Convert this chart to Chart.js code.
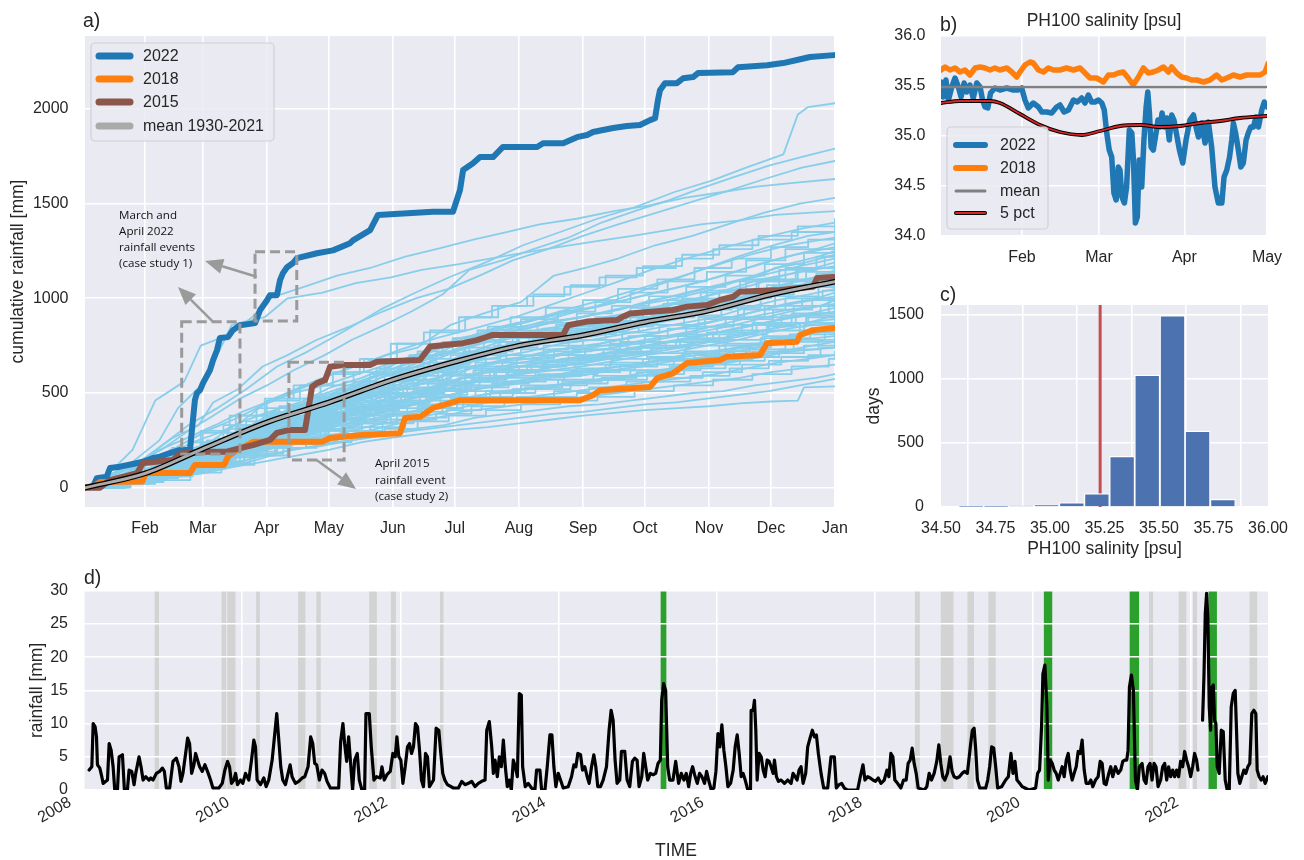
<!DOCTYPE html>
<html>
<head>
<meta charset="utf-8">
<script src="https://cdn.jsdelivr.net/npm/chart.js@4.4.1/dist/chart.umd.min.js"></script>
<style>
  html, body { margin: 0; padding: 0; background: #ffffff; width: 1304px; height: 860px; overflow: hidden; }
  canvas { position: absolute; }
</style>
</head>
<body>
<canvas id="panelA" width="860" height="545" style="left:0;top:0"></canvas>
<canvas id="panelB" width="444" height="270" style="left:860px;top:0"></canvas>
<canvas id="panelC" width="444" height="300" style="left:860px;top:270px"></canvas>
<canvas id="panelD" width="1304" height="295" style="left:0;top:565px"></canvas>
<script>
// ---------------- a) cumulative rainfall by day of year ----------------
const monthTickDays = [31, 59, 90, 120, 151, 181, 212, 243, 273, 304, 334, 365];
const monthTickLabels = ['Feb', 'Mar', 'Apr', 'May', 'Jun', 'Jul', 'Aug', 'Sep', 'Oct', 'Nov', 'Dec', 'Jan'];
const rainTicks = [0, 500, 1000, 1500, 2000];

// [day of year, cumulative mm]
const cum2022 = [[2,0],[5.9,5],[7.7,50],[12.5,58],[14.1,104],[18.9,111],[25.2,125],[30.1,137],[34.9,157],[38.3,164],[43.1,183],[48,199],[52.8,199],[55.2,463],[56.2,500],[57.7,515],[59.1,552],[62.5,621],[64,674],[65.9,727],[67.3,790],[71.2,795],[73.6,832],[77,858],[84.3,869],[86.7,937],[90.1,990],[91.5,1016],[94.9,1016],[96.4,1096],[97.8,1133],[99.8,1164],[102.7,1186],[104.6,1212],[114.3,1238],[122,1253],[130.3,1291],[131.7,1306],[140,1360],[143.8,1440],[170.4,1457],[180.1,1457],[183.5,1572],[185,1677],[189.8,1713],[193.2,1746],[199.5,1746],[204.3,1799],[220.8,1799],[223.7,1819],[233.4,1819],[240.1,1851],[245,1862],[247.9,1878],[257.6,1899],[264.3,1910],[270.6,1915],[275.5,1941],[277.9,1951],[279.3,2046],[280.3,2099],[282.7,2136],[288.5,2136],[291.5,2162],[296.3,2168],[298.7,2189],[315.6,2194],[318.1,2220],[332.1,2231],[339.9,2242],[346.6,2258],[352.9,2274],[364.5,2284]];
const cum2018 = [[2,0],[6.8,10],[9.3,30],[29.6,32],[31.5,77],[52.8,77],[55.2,120],[69.3,120],[71.2,164],[75.5,199],[78.9,215],[83.7,243],[117,243],[120.4,262],[136.4,278],[154.5,288],[156.9,368],[164.2,375],[170.4,421],[178.7,447],[183.5,462],[241.6,462],[247.9,488],[251.3,515],[265.8,525],[275.5,532],[278.9,578],[286.6,604],[293.4,658],[309.4,674],[312.7,692],[328.7,700],[332.1,763],[346.6,771],[348.1,806],[354.4,832],[364.5,843]];
const cum2015 = [[2,0],[9.3,0],[14.1,40],[27.2,77],[30.1,130],[44.6,146],[48,181],[61.1,190],[70.7,190],[77,209],[83.3,225],[91.5,252],[94.9,289],[101.2,305],[108.5,305],[111.9,533],[114.3,552],[118.2,568],[120.6,639],[126.9,648],[139.9,648],[143.3,665],[164.1,674],[169,745],[184.9,763],[191.7,779],[196.6,797],[199,806],[233.4,806],[235.8,858],[245,877],[259.5,885],[262.4,903],[265.8,920],[286.6,938],[293.4,956],[303.1,964],[309.4,991],[315.7,1008],[319,1035],[338.4,1044],[348.1,1054],[354.4,1061],[356.3,1107],[364.5,1112]];
const cumMean = [[2,0],[31,75],[59,205],[90,345],[120,450],[151,570],[181,665],[212,750],[243,805],[273,875],[304,935],[334,1020],[365,1088]];

// other years 1930-2021, each flat: day, mm, day, mm, ...
const otherYears = [
  [2,0, 12,60, 25,200, 36,460, 50,560, 58,750, 70,800, 83,900, 91,1000, 108,1060, 124,1120, 140,1160, 157,1220, 172,1260, 190,1310, 206,1350, 222,1390, 240,1420, 258,1460, 275,1490, 292,1530, 310,1560, 327,1590, 345,1610, 365,1630],
  [2,0, 9,40, 22,110, 38,250, 47,420, 60,560, 66,700, 73,860, 89,900, 100,1000, 117,1030, 133,1080, 150,1110, 165,1150, 183,1180, 198,1210, 214,1240, 231,1270, 249,1300, 267,1330, 284,1360, 300,1390, 318,1410, 336,1440, 365,1460],
  [2,0, 10,40, 26,110, 40,230, 52,330, 66,420, 80,520, 95,640, 110,720, 128,830, 145,940, 160,1020, 178,1110, 196,1190, 214,1280, 232,1350, 250,1420, 268,1480, 287,1560, 305,1620, 322,1690, 340,1760, 347,1970, 352,2010, 365,2030],
  [2,0, 14,60, 27,130, 39,200, 52,300, 64,380, 77,470, 90,540, 103,620, 118,700, 131,780, 147,860, 160,930, 175,1020, 188,1150, 204,1200, 219,1260, 236,1320, 252,1400, 268,1460, 285,1520, 300,1580, 316,1640, 333,1700, 350,1750, 365,1790],
  [2,0, 6,20, 18,90, 30,150, 44,260, 57,330, 64,450, 76,520, 88,640, 100,700, 114,780, 130,850, 146,930, 162,1000, 178,1050, 193,1120, 209,1200, 226,1260, 243,1330, 260,1390, 278,1450, 296,1510, 314,1570, 331,1630, 349,1690, 365,1725],
  [2,0, 15,30, 28,120, 42,170, 54,240, 67,290, 78,350, 91,460, 104,520, 117,580, 132,640, 148,700, 163,740, 179,860, 195,920, 213,980, 229,1120, 244,1160, 260,1210, 278,1280, 296,1330, 313,1390, 330,1450, 348,1500, 365,1530],
  [2,0, 12,60, 24,110, 38,200, 51,260, 65,330, 78,400, 92,460, 108,530, 122,600, 140,670, 155,730, 172,790, 190,840, 210,900, 226,960, 242,1020, 258,1080, 276,1150, 293,1210, 312,1270, 330,1320, 350,1370, 365,1400],
  [2,0, 17,20, 30,70, 45,120, 59,190, 69,240, 83,290, 96,350, 113,480, 127,530, 142,590, 160,660, 176,710, 193,780, 212,840, 230,900, 247,950, 264,1010, 282,1080, 300,1150, 318,1220, 335,1280, 352,1330, 365,1350],
  [2,0, 10,30, 22,80, 35,140, 49,230, 61,300, 74,360, 89,440, 103,500, 118,540, 134,600, 151,660, 167,720, 184,760, 200,840, 216,880, 235,940, 252,990, 270,1050, 289,1110, 306,1170, 324,1230, 342,1280, 365,1320],
  [2,0, 23,40, 38,120, 53,160, 68,250, 83,320, 98,400, 113,470, 128,520, 143,590, 158,660, 173,710, 188,790, 203,840, 218,880, 233,930, 248,950, 263,990, 278,1030, 293,1070, 308,1110, 323,1160, 338,1210, 353,1250, 365,1290],
  [2,0, 16,60, 31,90, 46,180, 61,230, 76,340, 91,400, 106,450, 121,530, 136,580, 151,650, 166,700, 181,770, 196,830, 211,870, 226,900, 241,940, 256,970, 271,1010, 286,1050, 301,1090, 316,1140, 331,1190, 346,1230, 365,1270],
  [2,0, 27,30, 42,110, 57,170, 72,220, 87,330, 102,400, 117,460, 132,510, 147,590, 162,640, 177,700, 192,760, 207,820, 222,860, 237,890, 252,920, 267,960, 282,1000, 297,1040, 312,1080, 327,1120, 342,1180, 357,1220, 365,1250],
  [2,0, 21,70, 36,100, 51,150, 66,240, 81,310, 96,420, 111,450, 126,500, 141,580, 156,630, 171,690, 186,740, 201,810, 216,840, 231,880, 246,910, 261,940, 276,990, 291,1020, 306,1060, 321,1100, 336,1160, 351,1190, 365,1230],
  [2,0, 18,40, 33,90, 48,140, 63,210, 78,290, 93,380, 108,430, 123,480, 138,560, 153,660, 168,720, 183,790, 198,820, 213,850, 228,880, 243,900, 258,940, 273,970, 288,1000, 303,1040, 318,1090, 333,1130, 348,1170, 365,1210],
  [2,0, 25,50, 40,100, 55,170, 70,230, 85,300, 100,380, 115,440, 130,500, 145,540, 160,610, 175,660, 190,720, 205,780, 220,820, 235,860, 250,880, 265,920, 280,950, 295,990, 310,1030, 325,1070, 340,1120, 355,1160, 365,1190],
  [2,0, 14,30, 29,110, 44,150, 59,210, 74,280, 89,370, 104,420, 119,480, 134,530, 149,600, 164,640, 179,710, 194,760, 209,800, 224,840, 239,860, 254,900, 269,930, 284,970, 299,1000, 314,1050, 329,1100, 344,1130, 365,1170],
  [2,0, 29,40, 44,90, 59,150, 74,200, 89,300, 104,370, 119,420, 134,480, 149,520, 164,590, 179,640, 194,700, 209,750, 224,790, 239,820, 254,860, 269,880, 284,920, 299,950, 314,990, 329,1030, 344,1080, 359,1120, 365,1150],
  [2,0, 20,50, 35,80, 50,160, 65,210, 80,280, 95,360, 110,410, 125,470, 140,510, 155,590, 170,620, 185,690, 200,740, 215,770, 230,800, 245,830, 260,860, 275,900, 290,930, 305,970, 320,1010, 335,1060, 350,1100, 365,1130],
  [2,0, 17,30, 32,100, 47,140, 62,200, 77,300, 92,350, 107,400, 122,450, 137,520, 152,560, 167,610, 182,680, 197,720, 212,760, 227,790, 242,810, 257,850, 272,880, 287,910, 302,950, 317,990, 332,1040, 347,1070, 365,1110],
  [2,0, 24,40, 39,90, 54,130, 69,220, 84,270, 99,350, 114,400, 129,450, 144,500, 159,570, 174,610, 189,670, 204,720, 219,750, 234,780, 249,800, 264,830, 279,870, 294,900, 309,940, 324,980, 339,1020, 354,1060, 365,1090],
  [2,0, 15,50, 30,80, 45,150, 60,200, 75,260, 90,360, 105,390, 120,440, 135,490, 150,550, 165,600, 180,650, 195,700, 210,740, 225,770, 240,790, 255,820, 270,860, 285,890, 300,920, 315,960, 330,1000, 345,1040, 365,1070],
  [2,0, 22,30, 37,100, 52,130, 67,190, 82,280, 97,340, 112,380, 127,450, 142,490, 157,540, 172,580, 187,660, 202,690, 217,720, 232,760, 247,780, 262,810, 277,840, 292,870, 307,900, 322,950, 337,990, 352,1020, 365,1050],
  [2,0, 26,40, 41,80, 56,140, 71,210, 86,260, 101,330, 116,390, 131,430, 146,480, 161,540, 176,570, 191,640, 206,680, 221,700, 236,740, 251,760, 266,790, 281,820, 296,860, 311,890, 326,930, 341,970, 356,1000, 365,1030],
  [2,0, 19,30, 34,70, 49,140, 64,190, 79,250, 94,340, 109,370, 124,420, 139,480, 154,520, 169,560, 184,630, 199,660, 214,690, 229,730, 244,740, 259,780, 274,810, 289,840, 304,870, 319,910, 334,950, 349,980, 365,1010],
  [2,0, 28,50, 43,90, 58,120, 73,190, 88,250, 103,320, 118,370, 133,410, 148,460, 163,510, 178,550, 193,610, 208,650, 223,680, 238,710, 253,730, 268,760, 283,790, 298,820, 313,850, 328,890, 343,930, 358,960, 365,990],
  [2,0, 13,20, 28,80, 43,120, 58,180, 73,250, 88,310, 103,360, 118,400, 133,450, 148,510, 163,540, 178,600, 193,640, 208,670, 223,690, 238,720, 253,750, 268,770, 283,800, 298,830, 313,870, 328,910, 343,940, 365,970],
  [2,0, 23,40, 38,70, 53,130, 68,180, 83,240, 98,310, 113,350, 128,400, 143,440, 158,490, 173,530, 188,590, 203,620, 218,650, 233,680, 248,700, 263,730, 278,760, 293,790, 308,820, 323,850, 338,890, 353,920, 365,950],
  [2,0, 16,30, 31,80, 46,110, 61,170, 76,230, 91,300, 106,350, 121,390, 136,430, 151,480, 166,520, 181,570, 196,610, 211,640, 226,660, 241,690, 256,710, 271,740, 286,770, 301,800, 316,840, 331,870, 346,900, 365,930],
  [2,0, 25,30, 40,80, 55,120, 70,160, 85,240, 100,290, 115,330, 130,380, 145,420, 160,470, 175,510, 190,560, 205,590, 220,620, 235,650, 250,670, 265,700, 280,730, 295,760, 310,790, 325,820, 340,850, 355,880, 365,910],
  [2,0, 20,40, 35,70, 50,110, 65,170, 80,230, 95,290, 110,330, 125,370, 140,410, 155,460, 170,500, 185,550, 200,580, 215,610, 230,640, 245,660, 260,690, 275,710, 290,740, 305,770, 320,800, 335,840, 350,870, 365,890],
  [2,0, 18,30, 33,60, 48,120, 63,160, 78,220, 93,280, 108,320, 123,360, 138,410, 153,450, 168,490, 183,540, 198,570, 213,600, 228,620, 243,640, 258,670, 273,700, 288,720, 303,750, 318,780, 333,820, 348,850, 365,870],
  [2,0, 27,30, 42,70, 57,110, 72,160, 87,210, 102,270, 117,310, 132,350, 147,400, 162,440, 177,480, 192,520, 207,560, 222,580, 237,610, 252,630, 267,650, 282,680, 297,710, 312,730, 327,760, 342,800, 357,830, 365,850],
  [2,0, 21,40, 36,60, 51,100, 66,150, 81,220, 96,270, 111,300, 126,350, 141,390, 156,430, 171,470, 186,510, 201,540, 216,570, 231,600, 246,610, 261,640, 276,660, 291,690, 306,710, 321,740, 336,780, 351,810, 365,830],
  [2,0, 17,30, 32,60, 47,100, 62,150, 77,200, 92,260, 107,300, 122,340, 137,370, 152,420, 167,450, 182,500, 197,530, 212,550, 227,580, 242,590, 257,620, 272,640, 287,670, 302,690, 317,720, 332,750, 347,780, 365,800],
  [2,0, 24,30, 39,60, 54,100, 69,150, 84,200, 99,250, 114,290, 129,320, 144,360, 159,400, 174,430, 189,480, 204,510, 219,530, 234,550, 249,570, 264,590, 279,620, 294,640, 309,660, 324,690, 339,720, 354,750, 365,770],
  [2,0, 14,20, 29,60, 44,90, 59,140, 74,190, 89,240, 104,270, 119,310, 134,350, 149,380, 164,410, 179,460, 194,490, 209,510, 224,530, 239,550, 254,570, 269,590, 284,610, 299,640, 314,660, 329,690, 344,720, 365,740],
  [2,0, 22,30, 37,50, 52,90, 67,130, 82,180, 97,230, 112,260, 127,290, 142,330, 157,360, 172,390, 187,430, 202,460, 217,480, 232,500, 247,520, 262,540, 277,560, 292,580, 307,600, 322,630, 337,660, 352,680, 365,700],
  [2,0, 19,20, 34,50, 49,80, 64,120, 79,170, 94,210, 109,240, 124,270, 139,300, 154,340, 169,360, 184,400, 199,420, 214,440, 229,460, 244,480, 259,500, 274,520, 289,540, 304,560, 319,580, 334,610, 349,630, 365,650],
  [2,0, 26,25, 41,45, 56,80, 71,110, 86,150, 101,200, 116,220, 131,250, 146,280, 161,310, 176,330, 191,370, 206,390, 221,410, 236,430, 251,440, 266,460, 281,480, 296,500, 311,510, 326,540, 341,560, 356,580, 365,600],
  [2,0, 18,20, 33,50, 48,80, 63,110, 78,140, 93,180, 108,210, 123,240, 138,260, 153,290, 168,310, 183,330, 198,350, 213,370, 228,390, 243,400, 258,420, 273,440, 288,450, 303,470, 318,490, 333,510, 348,540, 365,575],
  [2,0, 15,15, 31,35, 45,55, 59,75, 74,110, 90,140, 105,170, 120,200, 136,240, 151,265, 166,285, 181,305, 197,320, 212,340, 228,360, 243,380, 258,395, 273,410, 289,420, 304,430, 319,445, 334,455, 347,460, 350,530, 365,535]
];
// more years, as rain events: day of event, cumulative mm after it
const otherYearsSteps = [
  [2,0, 11,40, 27,90, 44,160, 58,230, 71,310, 88,390, 104,430, 121,490, 139,540, 152,610, 171,650, 188,720, 209,790, 228,830, 251,860, 266,900, 283,950, 301,990, 322,1040, 338,1090, 356,1130, 365,1150],
  [2,0, 17,50, 33,80, 49,150, 62,200, 79,300, 93,360, 118,440, 134,490, 149,570, 166,610, 182,680, 203,740, 221,770, 240,810, 259,850, 277,900, 297,940, 315,1000, 334,1050, 352,1090, 365,1120],
  [2,0, 8,20, 24,60, 39,110, 56,160, 70,230, 84,280, 99,350, 116,400, 130,460, 147,520, 163,570, 179,640, 196,700, 213,730, 236,780, 254,820, 270,860, 292,910, 310,950, 329,1020, 345,1060, 365,1100],
  [2,0, 14,30, 31,100, 47,130, 61,190, 77,270, 95,350, 109,390, 126,440, 143,500, 158,550, 175,600, 191,660, 206,700, 224,750, 243,780, 262,820, 280,860, 299,900, 318,960, 336,1010, 357,1060, 365,1080],
  [2,0, 21,40, 36,80, 52,140, 67,190, 83,280, 100,340, 113,380, 129,430, 145,490, 161,530, 177,590, 194,640, 211,680, 229,720, 247,750, 265,800, 284,840, 302,890, 321,940, 341,1000, 359,1040, 365,1060],
  [2,0, 10,30, 26,60, 42,130, 54,170, 73,230, 87,300, 102,330, 119,400, 136,450, 150,500, 168,550, 186,630, 204,660, 219,700, 238,730, 256,760, 273,800, 293,850, 312,900, 331,960, 349,1000, 365,1040],
  [2,0, 16,40, 29,70, 45,120, 63,200, 76,250, 91,320, 107,370, 124,420, 141,480, 156,520, 173,560, 190,620, 208,660, 226,700, 244,730, 261,770, 280,800, 298,850, 316,890, 335,940, 354,990, 365,1020],
  [2,0, 6,10, 23,50, 38,90, 53,130, 68,190, 82,250, 98,320, 112,360, 131,420, 148,460, 164,510, 181,560, 198,610, 216,640, 233,680, 252,710, 269,740, 288,780, 306,820, 325,870, 344,920, 362,990, 365,1000],
  [2,0, 19,40, 34,70, 50,120, 66,180, 81,260, 96,310, 114,360, 128,410, 144,450, 159,500, 176,540, 193,590, 212,640, 231,670, 249,700, 264,740, 283,770, 303,820, 320,860, 339,910, 358,960, 365,980],
  [2,0, 12,20, 28,60, 41,100, 57,140, 72,200, 86,260, 103,330, 117,360, 133,410, 151,460, 167,510, 184,560, 200,610, 218,640, 235,680, 254,710, 271,740, 290,770, 309,810, 327,860, 346,910, 365,960],
  [2,0, 18,30, 32,70, 48,110, 64,170, 78,230, 94,290, 108,340, 123,390, 140,430, 155,480, 172,520, 189,570, 206,620, 223,650, 241,680, 258,710, 276,740, 295,770, 313,810, 332,850, 351,900, 365,940],
  [2,0, 9,20, 25,50, 43,100, 59,150, 74,210, 90,280, 105,320, 121,370, 137,420, 153,460, 170,510, 186,560, 202,590, 220,620, 239,650, 257,680, 274,710, 293,750, 311,780, 330,830, 348,870, 365,920],
  [2,0, 15,30, 30,60, 46,100, 60,150, 75,220, 92,270, 106,310, 122,360, 138,410, 154,450, 169,490, 187,540, 205,580, 221,600, 240,630, 256,660, 275,690, 292,720, 312,760, 331,800, 350,860, 365,900],
  [2,0, 20,30, 37,70, 51,110, 65,160, 80,220, 97,280, 111,310, 127,360, 142,400, 158,440, 174,480, 191,530, 207,560, 225,590, 242,610, 261,640, 279,670, 297,700, 316,740, 334,790, 353,840, 365,880],
  [2,0, 13,20, 29,50, 44,100, 58,140, 72,190, 88,240, 103,280, 119,330, 135,380, 151,420, 166,460, 183,510, 199,550, 217,570, 234,600, 250,620, 268,650, 287,680, 305,720, 324,760, 343,810, 365,860],
  [2,0, 22,30, 38,60, 54,110, 69,160, 85,210, 101,260, 116,310, 132,350, 148,390, 163,430, 179,470, 196,510, 213,540, 231,570, 248,590, 266,620, 285,650, 303,690, 322,730, 341,780, 360,820, 365,840],
  [2,0, 7,10, 24,40, 40,80, 55,120, 71,170, 86,220, 102,270, 118,300, 133,340, 150,380, 165,420, 182,460, 198,500, 215,530, 233,560, 252,580, 269,610, 286,640, 306,680, 325,720, 345,770, 365,820],
  [2,0, 16,20, 33,60, 48,90, 63,140, 79,190, 95,240, 110,280, 126,320, 142,360, 158,400, 175,440, 192,480, 209,520, 227,540, 245,570, 263,590, 281,620, 300,650, 319,690, 338,730, 357,780, 365,800],
  [2,0, 11,20, 27,50, 42,90, 57,130, 73,180, 90,230, 104,260, 120,300, 136,340, 153,380, 168,420, 185,460, 203,500, 220,520, 237,550, 255,570, 274,600, 292,630, 312,670, 331,710, 350,750, 365,780],
  [2,0, 19,30, 35,60, 52,100, 66,130, 82,180, 98,230, 113,260, 129,300, 146,340, 161,370, 177,410, 194,450, 211,480, 229,510, 246,530, 264,560, 282,580, 301,610, 320,650, 339,690, 358,740, 365,760],
  [2,0, 13,50, 30,120, 46,160, 61,240, 75,320, 92,400, 107,440, 122,500, 138,560, 154,620, 169,680, 186,740, 203,800, 220,830, 237,860, 255,900, 272,950, 291,1000, 309,1040, 328,1090, 347,1160, 365,1200],
  [2,0, 20,40, 36,100, 52,170, 67,240, 83,330, 99,410, 115,460, 131,520, 147,590, 163,640, 179,700, 195,770, 212,820, 230,860, 249,900, 266,950, 284,990, 303,1040, 322,1100, 341,1160, 360,1220, 365,1240],
  [2,0, 24,30, 40,90, 55,130, 70,200, 87,270, 101,320, 117,380, 134,420, 150,480, 166,520, 183,580, 201,640, 218,670, 236,700, 253,730, 271,770, 289,810, 308,860, 326,900, 345,960, 365,1010],
  [2,0, 9,20, 26,50, 41,90, 57,150, 71,200, 89,260, 104,300, 119,340, 135,390, 152,440, 168,480, 184,530, 201,560, 219,590, 238,620, 254,650, 272,680, 291,710, 309,750, 329,790, 348,830, 365,870],
  [2,0, 17,30, 33,80, 49,120, 64,180, 79,240, 96,300, 110,350, 125,400, 141,440, 157,490, 173,540, 190,580, 207,620, 224,660, 242,690, 259,720, 277,750, 296,790, 314,830, 333,870, 352,920, 365,950],
  [2,0, 8,30, 23,70, 40,140, 56,200, 70,260, 86,340, 103,400, 119,450, 135,510, 151,570, 167,630, 184,700, 200,750, 217,790, 235,820, 252,860, 270,900, 288,950, 306,990, 326,1050, 344,1100, 365,1160],
  [2,0, 21,20, 36,40, 53,80, 68,120, 84,170, 100,210, 114,240, 131,280, 147,310, 163,350, 178,380, 196,410, 213,440, 232,460, 250,480, 268,510, 287,540, 306,570, 325,600, 344,640, 362,680, 365,690],
  [2,0, 14,20, 31,50, 47,80, 62,120, 77,170, 94,210, 109,250, 124,280, 140,320, 157,360, 172,390, 189,430, 205,460, 222,480, 240,500, 258,530, 276,560, 295,590, 314,630, 333,670, 352,700, 365,720],
  [2,0, 12,50, 28,140, 43,200, 58,300, 72,380, 89,470, 103,540, 119,600, 135,680, 150,760, 166,820, 183,900, 199,960, 216,1010, 234,1060, 251,1110, 269,1160, 288,1210, 306,1260, 325,1310, 344,1350, 365,1380],
  [2,0, 19,40, 34,110, 50,190, 65,260, 80,350, 96,430, 112,480, 127,560, 143,630, 159,700, 175,770, 192,830, 208,900, 225,950, 243,990, 260,1050, 279,1100, 297,1160, 315,1210, 334,1270, 352,1310, 365,1340],
  [2,0, 8,30, 25,90, 40,160, 54,240, 69,330, 85,420, 100,470, 116,540, 132,610, 147,660, 163,720, 180,790, 197,850, 213,890, 231,930, 249,980, 266,1030, 284,1090, 303,1140, 322,1200, 341,1260, 365,1310],
  [2,0, 15,60, 31,120, 47,170, 61,250, 76,330, 93,400, 108,470, 124,520, 140,600, 155,660, 172,710, 188,780, 205,830, 221,870, 240,920, 257,960, 275,1010, 293,1060, 312,1120, 331,1180, 350,1240, 365,1280],
  [2,0, 22,30, 37,90, 53,150, 68,230, 84,300, 99,380, 114,430, 130,500, 146,560, 161,620, 178,680, 194,740, 211,800, 229,840, 246,880, 264,920, 282,970, 300,1030, 319,1090, 338,1150, 356,1220, 365,1260],
  [2,0, 10,20, 26,80, 42,140, 57,200, 71,270, 87,350, 104,410, 120,460, 136,530, 152,600, 168,660, 185,720, 202,770, 219,810, 237,850, 255,880, 272,930, 290,980, 309,1040, 327,1100, 346,1160, 365,1220],
  [2,0, 16,40, 32,100, 48,150, 63,220, 78,290, 94,370, 109,420, 125,470, 141,540, 157,590, 173,660, 189,710, 206,760, 223,800, 240,830, 258,870, 276,910, 294,960, 313,1010, 332,1070, 351,1140, 365,1190],
  [2,0, 13,40, 29,120, 44,210, 59,290, 75,380, 90,460, 106,540, 122,610, 137,680, 153,760, 169,830, 186,900, 202,960, 219,1020, 237,1070, 254,1120, 272,1170, 291,1230, 309,1280, 328,1330, 347,1380, 365,1420]
];

// ---------------- b) PH100 salinity, Jan-Apr ----------------
const salMonthDays = [31, 59, 90, 120];
const salMonthLabels = ['Feb', 'Mar', 'Apr', 'May'];
const salTicks = [34.0, 34.5, 35.0, 35.5, 36.0];
const sal2022 = [[1.6,35.54],[2.4,35.39],[3.4,35.56],[4.3,35.36],[5.5,35.49],[6.7,35.58],[7.9,35.49],[8.9,35.39],[10.0,35.53],[10.9,35.44],[12.1,35.51],[13.3,35.38],[14.6,35.53],[15.8,35.49],[16.7,35.36],[17.6,35.29],[18.6,35.28],[19.6,35.43],[21.2,35.48],[23.0,35.46],[25.5,35.48],[27.9,35.46],[29.7,35.46],[30.9,35.48],[32.1,35.36],[33.3,35.28],[35.1,35.33],[37.0,35.29],[38.2,35.24],[40.0,35.24],[41.8,35.23],[43.6,35.29],[44.8,35.31],[46.3,35.24],[47.9,35.26],[49.7,35.36],[51.1,35.34],[52.7,35.38],[53.9,35.33],[55.1,35.41],[56.3,35.34],[57.5,35.34],[58.8,35.36],[60.0,35.33],[60.9,35.26],[61.8,35.03],[62.7,34.86],[63.6,34.79],[64.4,34.43],[65.2,34.36],[66.0,34.69],[66.6,34.66],[67.3,34.39],[68.2,34.33],[69.0,34.49],[70.0,35.06],[70.9,35.03],[71.5,34.76],[72.2,34.13],[72.9,34.19],[73.6,34.76],[74.5,34.49],[75.3,34.96],[76.1,35.29],[76.7,35.44],[77.3,35.23],[77.9,34.89],[78.7,34.86],[79.7,35.03],[80.4,35.16],[81.2,35.09],[81.9,35.23],[82.7,35.09],[83.6,35.18],[84.5,34.96],[85.4,35.21],[86.2,35.16],[87.2,35.01],[88.2,34.86],[89.4,34.73],[90.6,34.96],[92.0,35.16],[93.3,35.21],[94.2,35.09],[95.1,34.99],[96.3,35.13],[97.5,34.93],[98.7,35.14],[99.9,34.89],[101.1,34.49],[102.3,34.33],[103.6,34.33],[104.4,34.59],[105.4,34.66],[106.4,34.79],[107.2,34.96],[107.8,35.13],[108.6,35.03],[109.6,34.86],[110.5,34.69],[111.4,34.73],[112.4,34.96],[113.2,35.03],[114.1,35.09],[115.1,35.09],[116.0,35.19],[116.9,35.09],[118.1,35.26],[119.0,35.34],[120.1,35.29]];
const sal2018 = [[1.6,35.66],[3.1,35.69],[4.9,35.66],[6.7,35.68],[8.5,35.64],[10.3,35.66],[12.1,35.61],[14.0,35.68],[15.8,35.69],[17.6,35.68],[19.4,35.66],[21.2,35.68],[23.0,35.66],[25.5,35.68],[27.3,35.64],[29.1,35.59],[30.3,35.64],[32.1,35.71],[33.9,35.74],[35.1,35.73],[37.0,35.66],[38.8,35.64],[40.6,35.68],[42.4,35.66],[44.8,35.66],[47.2,35.68],[49.7,35.66],[52.1,35.68],[53.9,35.63],[55.7,35.58],[58.1,35.58],[60.6,35.54],[62.4,35.61],[64.2,35.61],[66.0,35.63],[67.8,35.64],[69.6,35.58],[71.4,35.51],[73.3,35.59],[75.1,35.68],[76.9,35.63],[78.7,35.64],[80.5,35.66],[82.4,35.69],[84.2,35.64],[85.4,35.69],[87.2,35.63],[89.0,35.59],[90.8,35.58],[92.6,35.56],[94.5,35.56],[96.9,35.54],[99.3,35.56],[101.7,35.61],[103.6,35.56],[105.4,35.58],[107.8,35.61],[110.2,35.59],[112.6,35.61],[115.1,35.61],[117.5,35.61],[119.3,35.64],[120.5,35.73]];
const salMean = 35.49;
const sal5pct = [[1.6,35.33],[8.5,35.35],[19.4,35.35],[23.0,35.33],[30.3,35.22],[37.6,35.11],[44.8,35.04],[52.7,35.01],[59.4,35.05],[66.6,35.10],[73.9,35.11],[81.2,35.09],[88.4,35.10],[95.7,35.13],[103.0,35.15],[110.2,35.18],[120.1,35.20]];

// ---------------- c) histogram of daily salinity ----------------
const binCenters = [34.522, 34.638, 34.753, 34.869, 34.984, 35.100, 35.215, 35.331, 35.446, 35.562, 35.677, 35.793];
const binDays = [0, 2, 3, 8, 16, 34, 105, 395, 1030, 1495, 593, 60];
const salFifthPct = 35.23;
const histXTicks = [34.50, 34.75, 35.00, 35.25, 35.50, 35.75, 36.00];
const histYTicks = [0, 500, 1000, 1500];

// ---------------- d) rainfall time series ----------------
const yearTicks = [2008, 2010, 2012, 2014, 2016, 2018, 2020, 2022];
const dayRainTicks = [0, 5, 10, 15, 20, 25, 30];
const rain2008 = [[2008.065,3.0],[2008.099,3.5],[2008.116,10],[2008.141,9.5],[2008.158,8],[2008.170,3.8],[2008.200,3.3],[2008.225,2],[2008.242,1],[2008.297,1.5],[2008.318,7],[2008.343,6],[2008.368,3.5],[2008.389,0],[2008.423,0],[2008.444,5],[2008.486,5.3],[2008.511,0],[2008.549,0],[2008.570,3],[2008.604,2.8],[2008.633,0.8],[2008.654,2.5],[2008.696,5],[2008.721,3.5],[2008.747,1.5],[2008.780,2],[2008.822,1.5],[2008.843,1.8],[2008.873,1.5],[2008.915,2.5],[2008.957,2.8],[2008.991,3.3],[2009.016,2.8],[2009.041,0.3],[2009.083,0.3],[2009.125,4.3],[2009.167,4.8],[2009.201,3.5],[2009.226,1.3],[2009.251,2.5],[2009.285,5.5],[2009.310,7.8],[2009.335,7],[2009.361,2.5],[2009.390,3.8],[2009.411,5.5],[2009.436,4.5],[2009.462,3.5],[2009.495,2.8],[2009.529,3.8],[2009.571,2.5],[2009.600,1.5],[2009.630,0.3],[2009.706,0.3],[2009.748,1],[2009.781,3],[2009.815,4.3],[2009.840,3.5],[2009.865,1],[2009.895,1.5],[2009.916,2.5],[2009.941,0.8],[2009.979,1.5],[2010.008,1],[2010.042,2.5],[2010.084,1.5],[2010.118,4.5],[2010.147,7.5],[2010.168,6.5],[2010.189,1.5],[2010.231,0.8],[2010.273,1.8],[2010.303,0.5],[2010.336,1.5],[2010.379,4.5],[2010.412,8.5],[2010.437,11.5],[2010.463,7.5],[2010.488,3.5],[2010.513,1.5],[2010.547,0.8],[2010.580,2.5],[2010.606,3.8],[2010.631,2],[2010.673,1],[2010.715,1.3],[2010.757,1.8],[2010.791,2],[2010.833,3.5],[2010.866,8],[2010.892,7],[2010.917,4],[2010.942,3.8],[2010.976,1.5],[2011.009,3],[2011.043,2.5],[2011.073,1.3],[2011.115,0.3],[2011.220,0.3],[2011.245,7.3],[2011.274,10],[2011.295,7],[2011.321,4.3],[2011.346,8],[2011.371,4],[2011.396,0],[2011.422,4.5],[2011.455,5.5],[2011.481,1.5],[2011.514,0],[2011.548,0],[2011.565,11.5],[2011.607,11.5],[2011.632,6.5],[2011.666,1.5],[2011.699,2],[2011.746,1.8]];
const rain2012 = [[2011.767,3.5],[2011.796,1.5],[2011.830,2.3],[2011.872,2.8],[2011.905,5.5],[2011.935,5],[2011.956,8],[2011.981,5],[2012.006,4.5],[2012.032,1],[2012.061,3.5],[2012.090,6.5],[2012.116,7],[2012.141,5.5],[2012.166,6.5],[2012.191,10],[2012.217,9.5],[2012.242,6],[2012.267,1.5],[2012.292,0.5],[2012.318,5.5],[2012.343,5],[2012.368,0.5],[2012.419,1.5],[2012.452,9.3],[2012.486,9],[2012.511,5.5],[2012.536,2.5],[2012.562,1.5],[2012.595,0.8],[2012.671,0.3],[2012.734,0.3],[2012.776,1.3],[2012.818,0.8],[2012.860,1],[2012.902,1.3],[2012.944,0.5],[2012.986,1],[2013.028,1.3],[2013.071,1.5],[2013.092,9],[2013.125,10.3],[2013.155,6.5],[2013.176,2.5],[2013.197,4.5],[2013.226,2],[2013.251,5],[2013.277,3.5],[2013.302,7.5],[2013.327,3.5],[2013.352,0.5],[2013.378,1.5],[2013.403,0],[2013.428,4.5],[2013.453,3.5],[2013.479,2],[2013.504,14.5],[2013.529,14.3],[2013.546,3.5],[2013.579,0.5],[2013.617,1],[2013.659,0.3],[2013.701,0],[2013.722,3],[2013.764,3],[2013.786,0],[2013.828,0],[2013.857,3.5],[2013.891,8.3],[2013.916,8.3],[2013.941,3.5],[2013.966,0.5],[2013.996,2.5],[2014.025,1.5],[2014.059,0.3],[2014.122,0.5],[2014.164,2],[2014.194,3.8],[2014.219,3.5],[2014.244,5.5],[2014.278,5.3],[2014.303,3],[2014.332,3.5],[2014.362,2],[2014.387,1],[2014.417,3.5],[2014.446,5.3],[2014.471,3.5],[2014.496,0.5],[2014.530,0.5],[2014.564,1.5],[2014.606,3.5],[2014.639,9],[2014.665,12],[2014.690,10.5],[2014.715,4.5],[2014.740,1],[2014.774,1.5],[2014.795,5.8],[2014.837,5.8],[2014.867,1.5],[2014.900,0.5],[2014.934,4.3],[2014.963,4.8],[2014.993,4.5],[2015.018,0.5],[2015.052,2],[2015.077,5.5],[2015.102,3.5],[2015.127,1.5],[2015.161,2.5],[2015.195,2.3],[2015.228,2.5],[2015.258,4],[2015.287,4.5],[2015.304,13.5],[2015.329,16],[2015.354,15],[2015.380,3.5],[2015.405,1.5],[2015.447,1.5],[2015.481,4.3]];
const rain2016 = [[2015.518,1],[2015.552,2.5],[2015.586,1.5],[2015.615,2.5],[2015.645,0.5],[2015.670,2.5],[2015.695,3.5],[2015.720,2.3],[2015.754,1],[2015.783,2.5],[2015.813,2],[2015.846,1],[2015.872,2.8],[2015.897,1.5],[2015.931,0],[2015.964,0.3],[2015.990,2.8],[2016.015,8.5],[2016.040,6.5],[2016.065,9.8],[2016.090,6],[2016.116,3.5],[2016.141,0.5],[2016.175,1],[2016.208,3],[2016.233,6.5],[2016.259,8.3],[2016.284,5.5],[2016.309,2],[2016.334,2.5],[2016.360,1.5],[2016.393,0],[2016.427,0],[2016.435,12],[2016.461,12],[2016.477,13.5],[2016.494,9],[2016.511,1.5],[2016.536,5.5],[2016.562,5],[2016.587,3],[2016.612,2],[2016.637,4.5],[2016.663,4.3],[2016.688,3.5],[2016.713,2.5],[2016.730,4.5],[2016.755,2],[2016.780,1.3],[2016.814,1.5],[2016.856,1],[2016.898,1.5],[2016.940,1],[2016.965,2.5],[2016.991,2],[2017.016,1.5],[2017.041,3],[2017.066,3.5],[2017.092,1],[2017.125,2.5],[2017.150,6.5],[2017.184,8],[2017.209,9],[2017.235,8],[2017.260,8.3],[2017.285,5.5],[2017.319,2.5],[2017.352,0.3],[2017.403,0.3],[2017.445,5],[2017.487,5],[2017.512,0.3],[2017.546,0.8],[2017.579,1],[2017.613,0.3],[2017.655,0],[2017.781,0],[2017.815,2],[2017.849,3.8],[2017.874,1.5],[2017.908,2],[2017.941,1.8],[2017.975,1.5],[2018.008,1.3],[2018.042,1.8],[2018.076,1],[2018.118,1.5],[2018.152,3],[2018.177,2],[2018.202,5.5],[2018.227,5],[2018.252,1.5],[2018.286,1],[2018.328,0.3],[2018.362,1.5],[2018.395,1.5],[2018.420,4],[2018.446,4.5],[2018.471,6.3],[2018.496,4],[2018.522,2.5],[2018.547,0.3],[2018.623,0],[2018.656,0.5],[2018.686,2.5],[2018.715,1.5],[2018.749,2.5],[2018.782,4.3],[2018.808,6.8],[2018.833,4],[2018.858,2],[2018.883,1.5],[2018.917,2.5],[2018.950,5],[2018.976,2.8],[2019.001,2],[2019.035,1.8],[2019.068,2],[2019.102,2.5],[2019.136,2.8],[2019.169,2.5]];
const rain2020 = [[2019.211,7],[2019.232,9],[2019.254,9.3],[2019.275,6],[2019.296,1.5],[2019.325,0.3],[2019.401,0.3],[2019.426,1.5],[2019.451,3.5],[2019.476,6.5],[2019.502,6.3],[2019.527,3.5],[2019.552,0.3],[2019.603,0.5],[2019.653,1.5],[2019.687,2],[2019.720,5.5],[2019.746,2.5],[2019.771,4.3],[2019.796,1.5],[2019.830,1],[2019.863,0.5],[2019.897,0.3],[2019.948,0],[2020.032,0.3],[2020.057,2.5],[2020.082,3],[2020.107,9.5],[2020.124,17.5],[2020.149,18.8],[2020.175,12.5],[2020.192,1.5],[2020.217,4.5],[2020.242,4],[2020.267,3],[2020.292,2.5],[2020.318,1.5],[2020.343,2.5],[2020.368,3.5],[2020.393,2],[2020.419,4.5],[2020.444,5.5],[2020.469,3],[2020.494,1.5],[2020.519,2.5],[2020.545,3.5],[2020.570,5.8],[2020.595,5.5],[2020.620,7.5],[2020.646,3],[2020.671,1],[2020.705,1],[2020.730,1.5],[2020.755,0.5],[2020.789,1.5],[2020.822,2],[2020.848,4.3],[2020.873,4],[2020.898,1],[2020.923,0.8],[2020.957,2.5],[2020.982,3.5],[2021.007,2],[2021.041,3.5],[2021.075,2.5],[2021.108,3],[2021.134,4.3],[2021.159,4.5],[2021.184,4.5],[2021.201,6],[2021.218,15.5],[2021.243,17.3],[2021.268,15],[2021.294,1.5],[2021.319,0],[2021.344,3.5],[2021.378,4],[2021.403,1.5],[2021.428,1],[2021.453,3.5],[2021.479,4],[2021.504,1.5],[2021.529,4],[2021.554,3.5],[2021.580,0.5],[2021.613,1.5],[2021.638,3.5],[2021.664,4],[2021.689,1.5],[2021.714,3.5],[2021.739,2],[2021.765,3],[2021.790,2],[2021.815,3],[2021.840,2],[2021.865,4.3],[2021.891,3.5],[2021.916,5.8],[2021.941,4.5],[2021.966,3.5],[2021.992,2],[2022.017,3.5],[2022.042,5.5],[2022.067,4.5],[2022.084,3],[2022.110,null],[2022.143,10.5],[2022.160,17],[2022.177,26.6],[2022.194,29.6],[2022.210,25.6],[2022.227,12.5],[2022.244,9],[2022.261,15.5],[2022.278,15.8],[2022.295,10.5],[2022.311,10],[2022.328,3.5],[2022.353,2.5],[2022.379,9],[2022.404,8.8],[2022.429,1.5],[2022.454,0],[2022.480,0],[2022.505,12.5],[2022.530,14.5],[2022.555,15],[2022.572,9],[2022.589,2.5],[2022.614,1],[2022.639,2],[2022.665,3],[2022.690,2.5],[2022.715,3.5],[2022.740,4],[2022.765,11.5],[2022.791,12],[2022.816,11.5],[2022.833,3],[2022.858,2],[2022.883,1.5],[2022.908,2],[2022.934,1],[2022.968,2]];
// periods shaded in the time series: [start, end] in decimal years
const quietSpans = [[2008.893,2008.948],[2009.739,2009.798],[2009.811,2009.915],[2010.177,2010.223],[2010.707,2010.799],[2010.938,2010.993],[2011.606,2011.703],[2011.880,2011.943],[2012.502,2012.545],[2018.505,2018.568],[2018.833,2018.993],[2019.170,2019.253],[2019.435,2019.527],[2021.466,2021.517],[2021.840,2021.937],[2022.021,2022.072],[2022.736,2022.833]];
const eventSpans = [[2015.291,2015.363],[2020.136,2020.242],[2021.221,2021.340],[2022.218,2022.324]];

// ---------------- drawing ----------------
const FONT = '"Liberation Sans", Arial, Helvetica, sans-serif';
const TXT = '#262626';
const BG = '#EAEAF2';
Chart.defaults.font.family = FONT;
Chart.defaults.font.size = 16;
Chart.defaults.color = TXT;

const pairs = arr => arr.map(([x, y]) => ({x, y}));
const flatPairs = f => { const out = []; for (let i = 0; i < f.length; i += 2) out.push({x: f[i], y: f[i + 1]}); return out; };

function axis(o) {
  const horizontal = o.pos === 'bottom';
  return {
    type: 'linear', position: o.pos, min: o.min, max: o.max, offset: false,
    afterBuildTicks: s => { s.ticks = o.ticks.map(v => ({value: v})); },
    afterFit: s => { if (horizontal) s.height = o.size; else s.width = o.size; },
    grid: {color: '#ffffff', lineWidth: 1.6, drawTicks: false},
    border: {display: false},
    ticks: {
      padding: o.tickPad, autoSkip: false, color: TXT, font: {size: 16},
      maxRotation: o.rot || 0, minRotation: o.rot || 0, labelOffset: o.labelOffset || 0,
      callback: o.fmt
    },
    title: o.title ? {
      display: true, text: o.title, color: TXT,
      font: {size: 17.5, lineHeight: o.titleLH || 1.2},
      padding: horizontal ? {top: 0, bottom: o.titlePad} : {top: o.titlePad, bottom: 0}
    } : {display: false}
  };
}

const plotBackground = {
  id: 'plotBackground',
  beforeDraw(chart) {
    const {ctx, chartArea: a} = chart;
    ctx.save();
    ctx.fillStyle = BG;
    ctx.fillRect(a.left, a.top, a.right - a.left, a.bottom - a.top);
    ctx.restore();
  }
};

function panelLetter(ctx, text, x, y) {
  ctx.save();
  ctx.font = '19.5px ' + FONT;
  ctx.fillStyle = TXT;
  ctx.textAlign = 'left';
  ctx.textBaseline = 'alphabetic';
  ctx.fillText(text, x, y);
  ctx.restore();
}

function roundBox(ctx, x0, y0, x1, y1, r) {
  ctx.beginPath();
  ctx.moveTo(x0 + r, y0);
  ctx.lineTo(x1 - r, y0); ctx.arcTo(x1, y0, x1, y0 + r, r);
  ctx.lineTo(x1, y1 - r); ctx.arcTo(x1, y1, x1 - r, y1, r);
  ctx.lineTo(x0 + r, y1); ctx.arcTo(x0, y1, x0, y1 - r, r);
  ctx.lineTo(x0, y0 + r); ctx.arcTo(x0, y0, x0 + r, y0, r);
  ctx.closePath();
}

function drawLegend(ctx, box, rows, sx0, sx1, tx) {
  ctx.save();
  roundBox(ctx, box[0], box[1], box[2], box[3], 4);
  ctx.fillStyle = 'rgba(234,234,242,0.85)';
  ctx.fill();
  ctx.strokeStyle = '#cfcfd4';
  ctx.lineWidth = 1.2;
  ctx.stroke();
  ctx.lineCap = 'round';
  rows.forEach(r => {
    r.strokes.forEach(([color, w]) => {
      ctx.strokeStyle = color; ctx.lineWidth = w;
      ctx.beginPath(); ctx.moveTo(sx0, r.y); ctx.lineTo(sx1, r.y); ctx.stroke();
    });
    ctx.fillStyle = TXT;
    ctx.font = '16px ' + FONT;
    ctx.textAlign = 'left';
    ctx.textBaseline = 'middle';
    ctx.fillText(r.label, tx, r.y + 1);
  });
  ctx.restore();
}

function arrow(ctx, x0, y0, x1, y1) {
  const a = Math.atan2(y1 - y0, x1 - x0), L = 18, W = 7.5;
  const bx = x1 - L * Math.cos(a), by = y1 - L * Math.sin(a);
  ctx.strokeStyle = '#9a9a9a'; ctx.fillStyle = '#9a9a9a'; ctx.lineWidth = 2.5;
  ctx.beginPath(); ctx.moveTo(x0, y0); ctx.lineTo(bx, by); ctx.stroke();
  ctx.beginPath(); ctx.moveTo(x1, y1);
  ctx.lineTo(bx + W * Math.sin(a), by - W * Math.cos(a));
  ctx.lineTo(bx - W * Math.sin(a), by + W * Math.cos(a));
  ctx.closePath(); ctx.fill();
}

// ---- panel a ----
const decorA = {
  id: 'decorA',
  afterDraw(chart) {
    const {ctx, scales: {x, y}} = chart;
    const px = d => x.getPixelForValue(d), py = v => y.getPixelForValue(v);
    ctx.save();
    // case-study boxes (day range, mm range)
    ctx.strokeStyle = '#9a9a9a'; ctx.lineWidth = 3; ctx.setLineDash([10, 5]);
    [[48.8, 77.0, 178, 876], [84.3, 104.5, 880, 1246], [100.7, 127.4, 146, 662]].forEach(([d0, d1, v0, v1]) => {
      ctx.strokeRect(px(d0), py(v1), px(d1) - px(d0), py(v0) - py(v1));
    });
    ctx.setLineDash([]);
    arrow(ctx, px(85.1), py(1114), px(60.1), py(1197));
    arrow(ctx, px(64.0), py(876), px(47.0), py(1060));
    arrow(ctx, px(114.1), py(146), px(133.2), py(-7));
    // notes
    ctx.fillStyle = '#111111';
    ctx.font = '11.6px "Open Sans", "DejaVu Sans", sans-serif';
    ctx.textAlign = 'left'; ctx.textBaseline = 'middle';
    const note1 = ['March and', 'April 2022', 'rainfall events', '(case study 1)'];
    [1434, 1350, 1266, 1181].forEach((v, i) => ctx.fillText(note1[i], px(18.5), py(v)));
    const note2 = ['April 2015', 'rainfall event', '(case study 2)'];
    [125, 37, -49].forEach((v, i) => ctx.fillText(note2[i], px(142.4), py(v)));
    ctx.restore();

    drawLegend(ctx, [91, 43, 274, 141], [
      {y: 56, label: '2022', strokes: [['#1f77b4', 7]]},
      {y: 79, label: '2018', strokes: [['#ff7f0e', 7]]},
      {y: 102, label: '2015', strokes: [['#8c564b', 7]]},
      {y: 126, label: 'mean 1930-2021', strokes: [['#aaaaaa', 7]]}
    ], 99, 130, 143);
    panelLetter(ctx, 'a)', 83, 27);
  }
};

const datasetsA = [
  {data: pairs(cumMean), borderColor: '#aaaaaa', borderWidth: 3, order: 0, cubicInterpolationMode: 'monotone'},
  {data: pairs(cumMean), borderColor: '#000000', borderWidth: 5.5, order: 1, cubicInterpolationMode: 'monotone'},
  {data: pairs(cum2015), borderColor: '#8c564b', borderWidth: 6, order: 2},
  {data: pairs(cum2018), borderColor: '#ff7f0e', borderWidth: 6, order: 3},
  {data: pairs(cum2022), borderColor: '#1f77b4', borderWidth: 6, order: 4}
];
otherYears.forEach(f => datasetsA.push({data: flatPairs(f), borderColor: '#87CEEB', borderWidth: 1.8, order: 10}));
otherYearsSteps.forEach(f => datasetsA.push({data: flatPairs(f), borderColor: '#87CEEB', borderWidth: 1.8, order: 10, stepped: true}));
datasetsA.forEach(d => { d.pointRadius = 0; d.borderJoinStyle = 'round'; d.borderCapStyle = 'round'; });

new Chart(document.getElementById('panelA'), {
  type: 'line',
  data: {datasets: datasetsA},
  options: {
    responsive: false, animation: false, devicePixelRatio: 1, events: [],
    layout: {padding: {left: 0, top: 36, right: 25, bottom: 0}},
    plugins: {legend: {display: false}, tooltip: {enabled: false}},
    scales: {
      x: axis({pos: 'bottom', min: 2, max: 365, ticks: monthTickDays, size: 38, tickPad: 12,
               fmt: v => monthTickLabels[monthTickDays.indexOf(v)]}),
      y: axis({pos: 'left', min: -102, max: 2385, ticks: rainTicks, size: 85, tickPad: 16.5,
               fmt: v => String(v), title: 'cumulative rainfall [mm]', titlePad: 7.5})
    }
  },
  plugins: [plotBackground, decorA]
});

// ---- panel b ----
const decorB = {
  id: 'decorB',
  afterDraw(chart) {
    const {ctx} = chart;
    panelLetter(ctx, 'b)', 80, 31);
    ctx.save();
    ctx.font = '17.5px ' + FONT; ctx.fillStyle = TXT;
    ctx.textAlign = 'center'; ctx.textBaseline = 'alphabetic';
    const a = chart.chartArea;
    ctx.fillText('PH100 salinity [psu]', (a.left + a.right) / 2, 26);
    ctx.restore();
    drawLegend(ctx, [87, 127, 188, 229], [
      {y: 145, label: '2022', strokes: [['#1f77b4', 6]]},
      {y: 168, label: '2018', strokes: [['#ff7f0e', 6]]},
      {y: 191, label: 'mean', strokes: [['#808080', 3]]},
      {y: 213, label: '5 pct', strokes: [['#000000', 4], ['#d62728', 2]]}
    ], 96, 125, 140);
  }
};

new Chart(document.getElementById('panelB'), {
  type: 'line',
  data: {datasets: [
    {data: pairs(sal5pct), borderColor: '#d62728', borderWidth: 1.8, order: 0, cubicInterpolationMode: 'monotone'},
    {data: pairs(sal5pct), borderColor: '#000000', borderWidth: 3.8, order: 1, cubicInterpolationMode: 'monotone'},
    {data: [{x: 1.6, y: salMean}, {x: 120, y: salMean}], borderColor: '#808080', borderWidth: 2.6, order: 2},
    {data: pairs(sal2018), borderColor: '#ff7f0e', borderWidth: 5.5, order: 3},
    {data: pairs(sal2022), borderColor: '#1f77b4', borderWidth: 5.5, order: 4}
  ].map(d => Object.assign(d, {pointRadius: 0, borderJoinStyle: 'round', borderCapStyle: 'round'}))},
  options: {
    responsive: false, animation: false, devicePixelRatio: 1, events: [],
    layout: {padding: {left: 0, top: 36, right: 37, bottom: 0}},
    plugins: {legend: {display: false}, tooltip: {enabled: false}},
    scales: {
      x: axis({pos: 'bottom', min: 1.6, max: 120, ticks: salMonthDays, size: 34, tickPad: 11.5,
               fmt: v => salMonthLabels[salMonthDays.indexOf(v)]}),
      y: axis({pos: 'left', min: 34.0, max: 36.0, ticks: salTicks, size: 81, tickPad: 15.5,
               fmt: v => v.toFixed(1)})
    }
  },
  plugins: [plotBackground, decorB]
});

// ---- panel c ----
const decorC = {
  id: 'decorC',
  afterDraw(chart) { panelLetter(chart.ctx, 'c)', 80, 31); }
};

new Chart(document.getElementById('panelC'), {
  type: 'bar',
  data: {datasets: [
    {type: 'bar', data: binCenters.map((c, i) => ({x: c, y: binDays[i]})),
     backgroundColor: '#4C72B0', borderColor: '#ffffff', borderWidth: 1.2,
     barPercentage: 1.0, categoryPercentage: 1.0, order: 1},
    {type: 'line', data: [{x: salFifthPct, y: 0}, {x: salFifthPct, y: 1578}],
     borderColor: '#C44E52', borderWidth: 3, pointRadius: 0, order: 2}
  ]},
  options: {
    responsive: false, animation: false, devicePixelRatio: 1, events: [],
    layout: {padding: {left: 0, top: 35, right: 36, bottom: 0}},
    plugins: {legend: {display: false}, tooltip: {enabled: false}},
    scales: {
      x: axis({pos: 'bottom', min: 34.5, max: 36.0, ticks: histXTicks, size: 63, tickPad: 11.5,
               fmt: v => v.toFixed(2), title: 'PH100 salinity [psu]', titlePad: 10}),
      y: axis({pos: 'left', min: 0, max: 1578, ticks: histYTicks, size: 81, tickPad: 17,
               fmt: v => String(v), title: 'days', titlePad: 3.5})
    }
  },
  plugins: [plotBackground, decorC]
});

// ---- panel d ----
const spansD = {
  id: 'spansD',
  beforeDraw(chart) {
    const {ctx, chartArea: a, scales: {x}} = chart;
    ctx.save();
    const fill = (spans, color) => {
      ctx.fillStyle = color;
      spans.forEach(([s, e]) => {
        const x0 = Math.max(a.left, x.getPixelForValue(s));
        const x1 = Math.min(a.right, x.getPixelForValue(e));
        ctx.fillRect(x0, a.top, x1 - x0, a.bottom - a.top);
      });
    };
    fill(quietSpans, '#D3D3D3');
    fill(eventSpans, '#2ca02c');
    ctx.restore();
  },
  afterDraw(chart) { panelLetter(chart.ctx, 'd)', 84, 19); }
};

new Chart(document.getElementById('panelD'), {
  type: 'line',
  data: {datasets: [{
    data: pairs(rain2008.concat(rain2012, rain2016, rain2020)),
    borderColor: '#000000', borderWidth: 3.2, pointRadius: 0, spanGaps: false,
    borderJoinStyle: 'round', borderCapStyle: 'round'
  }]},
  options: {
    responsive: false, animation: false, devicePixelRatio: 1, events: [],
    layout: {padding: {left: 0, top: 25.7, right: 36, bottom: 0}},
    plugins: {legend: {display: false}, tooltip: {enabled: false}},
    scales: {
      x: axis({pos: 'bottom', min: 2008.0, max: 2022.97, ticks: yearTicks, size: 70, tickPad: 3, rot: 30,
               labelOffset: -14, fmt: v => String(v), title: 'TIME', titlePad: 0, titleLH: 1.0}),
      y: axis({pos: 'left', min: 0, max: 30, ticks: dayRainTicks, size: 84, tickPad: 16,
               fmt: v => String(v), title: 'rainfall [mm]', titlePad: 26.5})
    }
  },
  plugins: [plotBackground, spansD]
});
</script>
</body>
</html>
